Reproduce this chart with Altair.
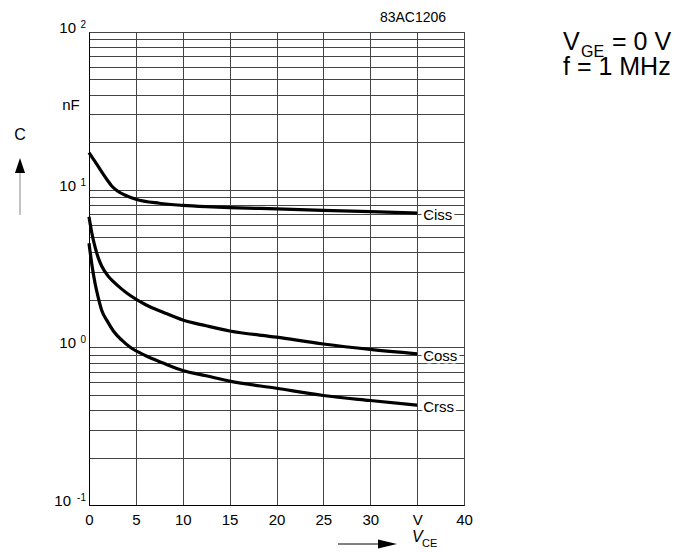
import altair as alt
import pandas as pd

# ---- data (V_CE in V, C in nF) ----
ciss_v = [0, 0.5, 1, 1.5, 2, 2.4, 3, 4, 5, 7.5, 10, 12.5, 15, 20, 25, 30, 35]
ciss = [17.2, 15.5, 14.0, 12.6, 11.4, 10.6, 9.85, 9.15, 8.7, 8.2, 7.95, 7.8, 7.7, 7.55, 7.4, 7.25, 7.1]
coss_v = [0, 0.3, 0.65, 1.0, 1.35, 2.0, 2.6, 3.5, 4.4, 6, 7.9, 10, 12.5, 15, 20, 25, 30, 35]
coss = [6.73, 5.31, 4.32, 3.68, 3.28, 2.85, 2.61, 2.34, 2.13, 1.87, 1.67, 1.49, 1.37, 1.27, 1.16, 1.05, 0.97, 0.91]
crss_v = [0, 0.3, 0.64, 1.0, 1.35, 2.0, 2.6, 3.5, 4.4, 6, 7.9, 10, 12.5, 15, 20, 25, 30, 35]
crss = [4.57, 3.37, 2.56, 2.05, 1.72, 1.45, 1.27, 1.11, 1.0, 0.887, 0.795, 0.713, 0.66, 0.61, 0.55, 0.495, 0.46, 0.43]
series_names = ["Ciss", "Coss", "Crss"]

x_ticks = [0, 5, 10, 15, 20, 25, 30, 35, 40]
x_tick_labels = ["0", "5", "10", "15", "20", "25", "30", "V", "40"]
y_grid = [0.1, 0.2, 0.3, 0.4, 0.5, 0.6, 0.7, 0.8, 0.9,
          1, 2, 3, 4, 5, 6, 7, 8, 9,
          10, 20, 30, 40, 50, 60, 70, 80, 90, 100]
decades = [0.1, 1, 10, 100]
exponents = ["-1", "0", "1", "2"]

FONT = "Liberation Sans"

rows = []
for name, xs, vals in zip(series_names, [ciss_v, coss_v, crss_v], [ciss, coss, crss]):
    for x, c in zip(xs, vals):
        rows.append({"vce": x, "C": c, "series": name})
df = pd.DataFrame(rows)
df_lab = pd.DataFrame({"vce": [ciss_v[-1], coss_v[-1], crss_v[-1]],
                       "C": [ciss[-1], coss[-1], crss[-1]],
                       "series": series_names})
df_dec = pd.DataFrame({"C": decades, "exp": exponents})

label_expr = ""
for v, l in zip(x_ticks, x_tick_labels):
    label_expr += f"datum.value == {v} ? '{l}' : "
label_expr += "datum.label"

xscale = alt.Scale(domain=[0, 40], nice=False, zero=False)
yscale = alt.Scale(type="log", domain=[0.1, 100], nice=False)

lines = alt.Chart(df).mark_line(color="black", strokeWidth=3.2, interpolate="monotone").encode(
    x=alt.X("vce:Q", scale=xscale,
            axis=alt.Axis(values=x_ticks, labelExpr=label_expr, title=None, ticks=False,
                          grid=True, labelPadding=7, labelFlush=False)),
    y=alt.Y("C:Q", scale=yscale,
            axis=alt.Axis(values=y_grid, labels=False, title=None, ticks=False, grid=True)),
    detail="series:N",
)

lab_enc = dict(
    x=alt.X("vce:Q", scale=xscale, title=None),
    y=alt.Y("C:Q", scale=yscale, title=None),
    text="series:N",
)
labels_halo = alt.Chart(df_lab).mark_text(align="left", baseline="middle", dx=6, dy=2,
                                          fontSize=15, font=FONT, color="white",
                                          stroke="white", strokeWidth=5).encode(**lab_enc)
labels = alt.Chart(df_lab).mark_text(align="left", baseline="middle", dx=6, dy=2,
                                     fontSize=15, font=FONT, color="black").encode(**lab_enc)

# y tick labels "10" with superscript exponents
ten = alt.Chart(df_dec).transform_calculate(
    tx="-8 - 5 * length(datum.exp)"
).mark_text(align="right", baseline="middle", dy=-4, fontSize=15, font=FONT,
            color="black", text="10").encode(
    x=alt.X("tx:Q", scale=None),
    y=alt.Y("C:Q", scale=yscale, title=None),
)
exps = alt.Chart(df_dec).mark_text(align="right", baseline="middle", dy=-7, fontSize=10,
                                   font=FONT, color="black").encode(
    x=alt.value(-3),
    y=alt.Y("C:Q", scale=yscale, title=None),
    text="exp:N",
)

one = pd.DataFrame({"a": [0]})


def note(txt, x, y, size=15, align="left", baseline="alphabetic", italic=False):
    return alt.Chart(one).mark_text(text=txt, align=align, baseline=baseline, fontSize=size,
                                    font=FONT, color="black",
                                    fontStyle="italic" if italic else "normal").encode(
        x=alt.value(x), y=alt.value(y))


notes = [
    note("C", -69, 103, 16, "center", "middle"),
    note("nF", -18, 73, 15, "center", "middle"),
    note("83AC1206", 324, -14, 14, "center", "middle"),
    note("V", 474, 18, 25),
    note("GE", 492, 25, 16),
    note("= 0 V", 523, 18, 25),
    note("f = 1 MHz", 474, 43, 25),
    note("V", 323, 510, 16, italic=True),
    note("CE", 333, 515, 11),
]

up_line = alt.Chart(one).mark_rule(color="#888", strokeWidth=1).encode(
    x=alt.value(-69), y=alt.value(141), y2=alt.value(183))
up_head = alt.Chart(one).mark_point(shape="M 0 -1 L 0.67 1 L -0.67 1 Z", filled=True,
                                    color="black", opacity=1, size=225).encode(
    x=alt.value(-69), y=alt.value(133.5))
r_line = alt.Chart(one).mark_rule(color="black", strokeWidth=1).encode(
    x=alt.value(249), x2=alt.value(291), y=alt.value(512))
r_head = alt.Chart(one).mark_point(shape="M 1 0 L -1 -0.47 L -1 0.47 Z", filled=True,
                                   color="black", opacity=1, size=361).encode(
    x=alt.value(298.5), y=alt.value(512))

chart = alt.layer(lines, labels_halo, labels, ten, exps, up_line, up_head, r_line, r_head,
                  *notes).properties(
    width=375, height=473,
    autosize=alt.AutoSizeParams(type="none"),
    padding={"left": 81, "top": 24, "right": 220, "bottom": 46},
).configure_view(
    stroke="#444", strokeWidth=1
).configure_axis(
    domainColor="black", domainWidth=1, gridColor="#444", gridWidth=1, gridOpacity=1,
    labelFont=FONT, labelFontSize=15, labelColor="black",
)

chart.save("out.html", embed_options={"renderer": "svg", "actions": False})
